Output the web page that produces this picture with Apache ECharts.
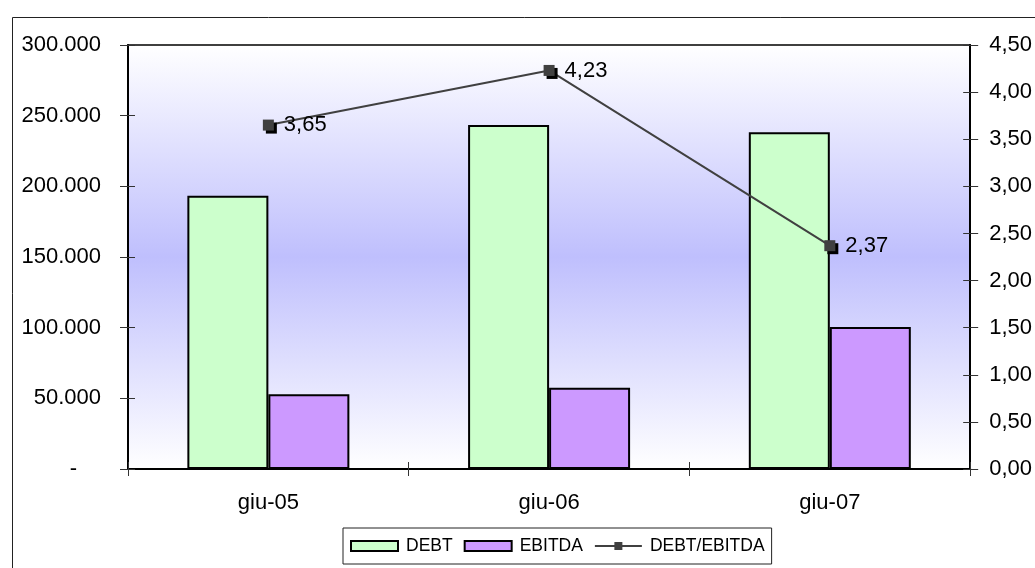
<!DOCTYPE html>
<html>
<head>
<meta charset="utf-8">
<title>DEBT / EBITDA</title>
<script src="https://cdn.jsdelivr.net/npm/echarts@6/dist/echarts.min.js"></script>
<style>
  html, body { margin: 0; padding: 0; background: #ffffff; }
  #chart { width: 1035px; height: 568px; }
</style>
</head>
<body>
<div id="chart"></div>
<script>
// Periods (June of each year)
const categories = ['giu-05', 'giu-06', 'giu-07'];
// Amounts (left axis)
const debt = [193300, 243400, 238200];
const ebitda = [52900, 57500, 100500];
// Leverage ratio (right axis)
const ratio = [3.65, 4.23, 2.37];

const FONT = "'Liberation Sans', Arial, sans-serif";
const FS = 22;

// Italian number style: thousands with dots, zero shown as a dash
function fmtAmount(v) {
  if (v === 0) return '{z|-}';
  return String(Math.round(v)).replace(/\B(?=(\d{3})+(?!\d))/g, '.');
}
function fmtRatio(v) {
  return v.toFixed(2).replace('.', ',');
}

const chart = echarts.init(document.getElementById('chart'), null, { renderer: 'canvas' });

const tickStyle = { color: '#333333', width: 1 };

chart.setOption({
  animation: false,
  backgroundColor: '#ffffff',
  textStyle: { fontFamily: FONT },
  grid: {
    left: 128, right: 62, top: 45, bottom: 99,
    show: true,
    borderColor: '#000000',
    borderWidth: 1.5,
    backgroundColor: {
      type: 'linear', x: 0, y: 0, x2: 0, y2: 1,
      colorStops: [
        { offset: 0, color: '#ffffff' },
        { offset: 0.5, color: '#bfbffd' },
        { offset: 1, color: '#ffffff' }
      ]
    }
  },
  graphic: [{
    type: 'rect',
    left: 10, top: 15,
    shape: { width: 1100, height: 600 },
    style: { fill: 'none', stroke: '#222222', lineWidth: 1 },
    silent: true, z: -1
  }],
  legend: {
    left: 343, top: 528,
    padding: [9, 7, 9, 7],
    itemWidth: 47, itemHeight: 10, itemGap: 11,
    borderColor: '#222222', borderWidth: 1,
    backgroundColor: '#ffffff',
    textStyle: { fontFamily: FONT, fontSize: 17.5, color: '#000', padding: [0, 0, 0, 3] },
    data: [
      { name: 'DEBT', icon: 'rect' },
      { name: 'EBITDA', icon: 'rect' },
      { name: 'DEBT/EBITDA' }
    ]
  },
  xAxis: [{
    type: 'category',
    data: categories,
    position: 'bottom',
    axisLine: { lineStyle: { color: '#000', width: 2 } },
    axisTick: { show: true, inside: false, length: 7, lineStyle: tickStyle },
    axisLabel: { fontSize: FS, color: '#000', margin: 23, fontFamily: FONT },
    splitLine: { show: false }
  }, {
    type: 'category',
    data: categories,
    position: 'bottom',
    axisLine: { show: false },
    axisTick: { show: true, inside: true, length: 7, lineStyle: tickStyle },
    axisLabel: { show: false },
    splitLine: { show: false }
  }],
  yAxis: [{
    type: 'value',
    position: 'left',
    min: 0, max: 300000, interval: 50000,
    axisLine: { show: true, lineStyle: { color: '#000', width: 2 } },
    axisTick: { show: true, inside: false, length: 8, lineStyle: tickStyle },
    axisLabel: {
      fontSize: FS, color: '#000', margin: 27, fontFamily: FONT,
      formatter: fmtAmount,
      rich: { z: { fontSize: FS, color: '#000', padding: [0, 24, 0, 0], fontFamily: FONT } }
    },
    splitLine: { show: false }
  }, {
    type: 'value',
    position: 'right',
    min: 0, max: 4.5, interval: 0.5,
    axisLine: { show: true, lineStyle: { color: '#000', width: 2 } },
    axisTick: { show: true, inside: false, length: 8, lineStyle: tickStyle },
    axisLabel: { fontSize: FS, color: '#000', margin: 19, fontFamily: FONT, formatter: fmtRatio },
    splitLine: { show: false }
  }, {
    type: 'value',
    position: 'left',
    min: 0, max: 300000, interval: 50000,
    axisLine: { show: false },
    axisTick: { show: true, inside: true, length: 7, lineStyle: tickStyle },
    axisLabel: { show: false },
    splitLine: { show: false }
  }, {
    type: 'value',
    position: 'right',
    min: 0, max: 4.5, interval: 0.5,
    axisLine: { show: false },
    axisTick: { show: true, inside: true, length: 7, lineStyle: tickStyle },
    axisLabel: { show: false },
    splitLine: { show: false }
  }],
  series: [{
    name: 'DEBT',
    type: 'bar',
    xAxisIndex: 0, yAxisIndex: 0,
    data: debt,
    barWidth: 81,
    barGap: '0%',
    itemStyle: { color: '#ccffcc', borderColor: '#000000', borderWidth: 2 }
  }, {
    name: 'EBITDA',
    type: 'bar',
    xAxisIndex: 0, yAxisIndex: 0,
    data: ebitda,
    barWidth: 81,
    barGap: '0%',
    itemStyle: { color: '#cc99ff', borderColor: '#000000', borderWidth: 2 }
  }, {
    name: 'DEBT/EBITDA',
    type: 'line',
    xAxisIndex: 0, yAxisIndex: 1,
    data: ratio,
    symbol: 'rect',
    symbolSize: 11,
    z: 5,
    lineStyle: { color: '#404040', width: 2 },
    itemStyle: {
      color: '#404040',
      shadowColor: '#000000', shadowBlur: 0, shadowOffsetX: 3, shadowOffsetY: 3
    },
    label: {
      show: true,
      position: 'right',
      distance: 10,
      fontSize: FS,
      color: '#000',
      fontFamily: FONT,
      formatter: p => fmtRatio(p.value)
    }
  }]
});
</script>
</body>
</html>
